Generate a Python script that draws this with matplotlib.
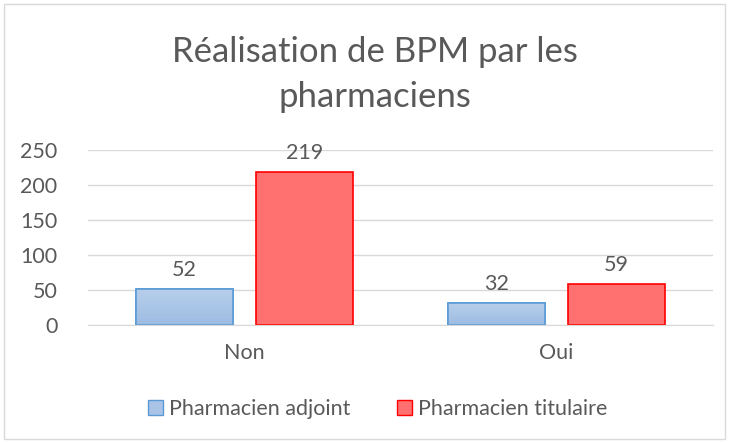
import numpy as np
import matplotlib
matplotlib.use('Agg')
import matplotlib.pyplot as plt
from matplotlib.patches import Rectangle

plt.rcParams['font.family'] = ['Lato', 'DejaVu Sans']

categories = ['Non', 'Oui']
adjoint = [52, 32]
titulaire = [219, 59]
series_names = ['Pharmacien adjoint', 'Pharmacien titulaire']
yticks = [0, 50, 100, 150, 200, 250]

TXT = '#595959'
GRID = '#D9D9D9'

fig = plt.figure(figsize=(7.29, 4.43), dpi=100)
ax = fig.add_axes([0.1207, 0.266, 0.857, 0.395])

x = np.arange(len(categories))
w = 0.31
off = 0.192

b1 = ax.bar(x - off, adjoint, w, color='#A9C4E6', edgecolor='#5B9BD5', linewidth=1.2, zorder=3)
b2 = ax.bar(x + off, titulaire, w, color='#FF7070', edgecolor='#FF0000', linewidth=1.2, zorder=3)

# gradient on the blue bars
grad = np.linspace(0, 1, 100).reshape(-1, 1)
cmap = matplotlib.colors.LinearSegmentedColormap.from_list('g', ['#9DBCE3', '#B8CFEA'])
for r in b1:
    xx, yy = r.get_x(), r.get_y()
    im = ax.imshow(grad, cmap=cmap, origin='lower', aspect='auto',
                   extent=(xx, xx + r.get_width(), yy, yy + r.get_height()), zorder=3.5)
    im.set_clip_path(r)
    ax.add_patch(Rectangle((xx, yy), r.get_width(), r.get_height(), fill=False,
                           edgecolor='#5B9BD5', linewidth=1.2, zorder=4))

for bars, vals in [(b1, adjoint), (b2, titulaire)]:
    for r, v in zip(bars, vals):
        ax.text(r.get_x() + r.get_width() / 2, v + 12, str(v), ha='center', va='bottom',
                fontsize=15.5, color=TXT)

ax.set_xlim(-0.5, 1.5)
ax.set_ylim(0, 250)
ax.set_yticks(yticks)
ax.set_xticks(x)
ax.set_xticklabels(categories)
ax.tick_params(axis='both', length=0, labelsize=15.5, labelcolor=TXT)
ax.tick_params(axis='x', pad=13)
ax.tick_params(axis='y', pad=22)
ax.yaxis.grid(True, color=GRID, linewidth=1, zorder=0)
for s in ['top', 'right', 'left']:
    ax.spines[s].set_visible(False)
ax.spines['bottom'].set_color(GRID)
ax.spines['bottom'].set_zorder(5)

fig.text(0.514, 0.832, 'Réalisation de BPM par les\npharmaciens', ha='center', va='center',
         fontsize=25, color=TXT, linespacing=1.5)

h1 = Rectangle((0, 0), 1, 1, facecolor='#A9C4E6', edgecolor='#5B9BD5')
h2 = Rectangle((0, 0), 1, 1, facecolor='#FF7070', edgecolor='#FF0000')
fig.legend([h1, h2], series_names, loc='center', bbox_to_anchor=(0.518, 0.077), ncol=2,
           frameon=False, fontsize=15.5, labelcolor=TXT, handlelength=0.7, handleheight=0.7,
           handletextpad=0.25, columnspacing=2.2)

fig.patches.append(Rectangle((0.006, 0.009), 0.988, 0.982, transform=fig.transFigure,
                             fill=False, edgecolor=GRID, linewidth=1))

fig.savefig('out.png', dpi=100)
